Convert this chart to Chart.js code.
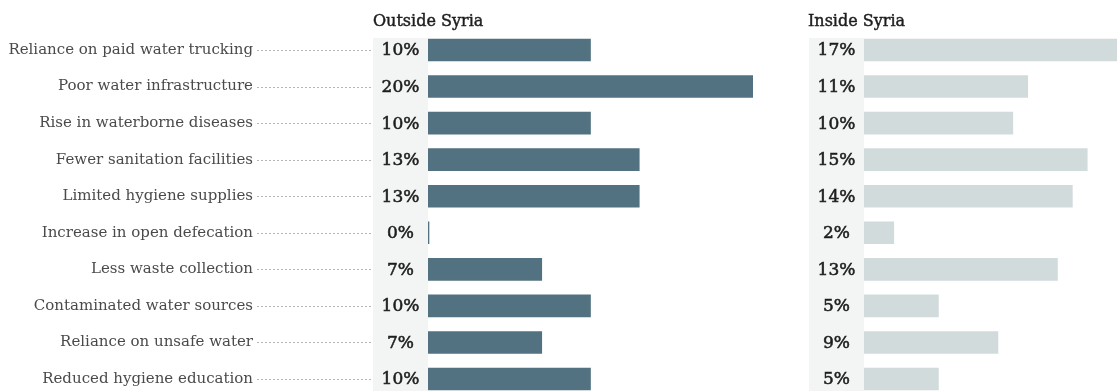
<!DOCTYPE html>
<html>
<head>
<meta charset="utf-8">
<script src="https://cdn.jsdelivr.net/npm/chart.js@4.4.1/dist/chart.umd.min.js"></script>
<style>
  html, body { margin: 0; padding: 0; background: #fff; width: 1117px; height: 391px; overflow: hidden; }
  #wrap { position: relative; width: 1117px; height: 391px; }
  canvas { position: absolute; top: 0; }
  #outside { left: 0; }
  #inside { left: 780px; }
</style>
</head>
<body>
<div id="wrap">
  <canvas id="outside"></canvas>
  <canvas id="inside"></canvas>
</div>
<script>
const categories = [
  'Reliance on paid water trucking',
  'Poor water infrastructure',
  'Rise in waterborne diseases',
  'Fewer sanitation facilities',
  'Limited hygiene supplies',
  'Increase in open defecation',
  'Less waste collection',
  'Contaminated water sources',
  'Reliance on unsafe water',
  'Reduced hygiene education'
];
const outsideSyria = [10, 20, 10, 13, 13, 0, 7, 10, 7, 10];
const insideSyria = [17, 11, 10, 15, 14, 2, 13, 5, 9, 5];
const panelTitles = ['Outside Syria', 'Inside Syria'];

const SERIF = '"DejaVu Serif", "Liberation Serif", serif';
const CANVAS_H = 400;

// Text with a hairline outline, giving a medium weight between regular and bold.
function mediumText(ctx, text, x, y, color, width) {
  ctx.fillStyle = color;
  ctx.strokeStyle = color;
  ctx.lineWidth = width;
  ctx.setLineDash([]);
  ctx.fillText(text, x, y);
  ctx.strokeText(text, x, y);
}

// Draws the grey value column, the value labels, the panel title and
// (for the first panel) the category names with dotted leaders.
const decorations = {
  id: 'decorations',
  beforeDatasetsDraw(chart, args, opts) {
    const { ctx, chartArea } = chart;
    ctx.save();
    ctx.fillStyle = '#f3f5f4';
    ctx.fillRect(chartArea.left - opts.colWidth, 38, opts.colWidth, CANVAS_H);
    ctx.restore();
  },
  afterDatasetsDraw(chart, args, opts) {
    const { ctx, chartArea } = chart;
    const y = chart.scales.y;
    const data = chart.data.datasets[0].data;
    const colLeft = chartArea.left - opts.colWidth;
    ctx.save();
    // title
    ctx.font = '16px ' + SERIF;
    ctx.textAlign = 'left';
    ctx.textBaseline = 'alphabetic';
    mediumText(ctx, opts.title, colLeft + opts.titleShift, 26, '#1e1e1e', 0.45);
    // values
    ctx.font = '17px ' + SERIF;
    ctx.textAlign = 'center';
    ctx.textBaseline = 'middle';
    data.forEach((v, i) => {
      mediumText(ctx, v + '%', colLeft + opts.colWidth / 2, y.getPixelForValue(i) + 1, '#1e1e1e', 0.55);
    });
    // category names + leaders
    if (opts.showCategories) {
      ctx.font = '15px ' + SERIF;
      ctx.textAlign = 'right';
      chart.data.labels.forEach((lab, i) => {
        const cy = y.getPixelForValue(i);
        ctx.fillStyle = '#4a4a4a';
        ctx.fillText(lab, opts.labelRight, cy);
        ctx.strokeStyle = '#b5b5b5';
        ctx.lineWidth = 1;
        ctx.setLineDash([2, 2]);
        ctx.beginPath();
        ctx.moveTo(opts.labelRight + 4, Math.round(cy) + 0.5);
        ctx.lineTo(colLeft - 1, Math.round(cy) + 0.5);
        ctx.stroke();
      });
    }
    ctx.restore();
  }
};

function panel(id, width, values, color, maxX, padLeft, padRight, title, showCategories, titleShift) {
  const el = document.getElementById(id);
  el.width = width;
  el.height = CANVAS_H;
  el.style.width = width + 'px';
  el.style.height = CANVAS_H + 'px';
  return new Chart(el, {
    type: 'bar',
    data: {
      labels: categories,
      datasets: [{
        data: values,
        backgroundColor: color,
        borderWidth: 0,
        barThickness: 22,
        minBarLength: 1
      }]
    },
    options: {
      indexAxis: 'y',
      responsive: false,
      animation: false,
      devicePixelRatio: 1,
      layout: { padding: { left: padLeft, right: padRight, top: 31.7, bottom: CANVAS_H - 397.3 } },
      scales: {
        x: { display: false, min: 0, max: maxX, grid: { display: false } },
        y: { display: false, grid: { display: false } }
      },
      plugins: {
        legend: { display: false },
        tooltip: { enabled: false },
        decorations: {
          colWidth: 55,
          title: title,
          titleShift: titleShift,
          showCategories: showCategories,
          labelRight: 253
        }
      }
    },
    plugins: [decorations]
  });
}

panel('outside', 780, outsideSyria, '#537281', 20, 428, 780 - 753, panelTitles[0], true, 0);
panel('inside', 337, insideSyria, '#d1dbdc', 17, 84, 0, panelTitles[1], false, -1);
</script>
</body>
</html>
